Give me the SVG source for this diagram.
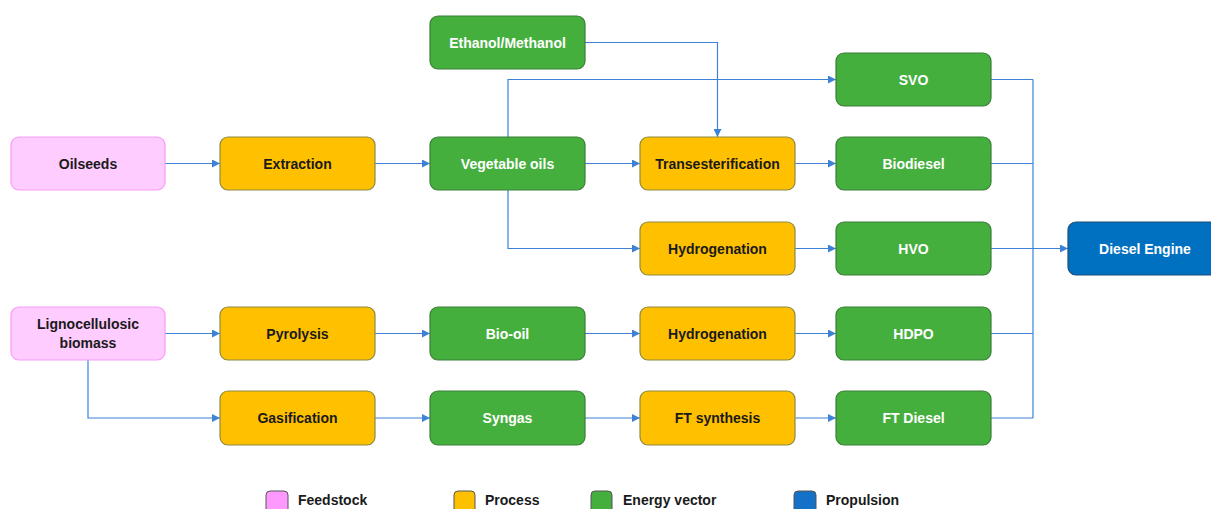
<svg xmlns="http://www.w3.org/2000/svg" width="1211" height="509" viewBox="0 0 1211 509">
<defs>
<style>
.n rect{stroke-width:1.2}
.fs rect{fill:#FFCCFF;stroke:#F59CF5}
.pr rect{fill:#FFC000;stroke:#8C8A45}
.ev rect{fill:#45AF3E;stroke:#3A7F38}
.pp rect{fill:#0070C0;stroke:#1F4E79}
text{font-family:"Liberation Sans",Arial,sans-serif;font-weight:bold;font-size:14px;text-anchor:middle}
.fs text,.pr text{fill:#1A1A1A}
.ev text,.pp text{fill:#FFFFFF}
.c path{fill:none;stroke:#3D82D6;stroke-width:1.2}
.lg text{text-anchor:start;fill:#1A1A1A}
.lg rect{stroke:#555;stroke-width:1}
</style>
<marker id="ah" viewBox="0 0 10 10" refX="10" refY="5" markerWidth="8" markerHeight="8" markerUnits="userSpaceOnUse" orient="auto">
<path d="M0,0 L10,5 L0,10 Z" fill="#3D82D6"/>
</marker>
</defs>
<rect width="1211" height="509" fill="#FFFFFF"/>
<g class="c">
<path d="M165,163.5 H220" marker-end="url(#ah)"/>
<path d="M375,163.5 H430" marker-end="url(#ah)"/>
<path d="M585,163.5 H640" marker-end="url(#ah)"/>
<path d="M508,137 V79.5 H836" marker-end="url(#ah)"/>
<path d="M585,42.5 H717.5 V137" marker-end="url(#ah)"/>
<path d="M508,190 V248.5 H640" marker-end="url(#ah)"/>
<path d="M795,163.5 H836" marker-end="url(#ah)"/>
<path d="M795,248.5 H836" marker-end="url(#ah)"/>
<path d="M165,333.5 H220" marker-end="url(#ah)"/>
<path d="M375,333.5 H430" marker-end="url(#ah)"/>
<path d="M585,333.5 H640" marker-end="url(#ah)"/>
<path d="M795,333.5 H836" marker-end="url(#ah)"/>
<path d="M88,360 V418 H220" marker-end="url(#ah)"/>
<path d="M375,418 H430" marker-end="url(#ah)"/>
<path d="M585,418 H640" marker-end="url(#ah)"/>
<path d="M795,418 H836" marker-end="url(#ah)"/>
<path d="M991,79.5 H1033 M991,163.5 H1033 M991,333.5 H1033 M991,418 H1033 M1033,79.5 V418"/>
<path d="M991,248.5 H1068" marker-end="url(#ah)"/>
</g>
<g id="oilseeds" class="n fs"><rect x="11" y="137" width="154" height="53" rx="8"/><text x="88" y="168.5">Oilseeds</text></g>
<g id="extraction" class="n pr"><rect x="220" y="137" width="155" height="53" rx="8"/><text x="297.5" y="168.5">Extraction</text></g>
<g id="vegoils" class="n ev"><rect x="430" y="137" width="155" height="53" rx="8"/><text x="507.5" y="168.5">Vegetable oils</text></g>
<g id="ethanol" class="n ev"><rect x="430" y="16" width="155" height="53" rx="8"/><text x="507.5" y="47.5">Ethanol/Methanol</text></g>
<g id="trans" class="n pr"><rect x="640" y="137" width="155" height="53" rx="8"/><text x="717.5" y="168.5">Transesterification</text></g>
<g id="svo" class="n ev"><rect x="836" y="53" width="155" height="53" rx="8"/><text x="913.5" y="84.5">SVO</text></g>
<g id="biodiesel" class="n ev"><rect x="836" y="137" width="155" height="53" rx="8"/><text x="913.5" y="168.5">Biodiesel</text></g>
<g id="hydro1" class="n pr"><rect x="640" y="222" width="155" height="53" rx="8"/><text x="717.5" y="253.5">Hydrogenation</text></g>
<g id="hvo" class="n ev"><rect x="836" y="222" width="155" height="53" rx="8"/><text x="913.5" y="253.5">HVO</text></g>
<g id="diesel" class="n pp"><rect x="1068" y="222" width="154" height="53" rx="8"/><text x="1145" y="253.5">Diesel Engine</text></g>
<g id="ligno" class="n fs"><rect x="11" y="307" width="154" height="53" rx="8"/><text x="88" y="329">Lignocellulosic</text><text x="88" y="348">biomass</text></g>
<g id="pyrolysis" class="n pr"><rect x="220" y="307" width="155" height="53" rx="8"/><text x="297.5" y="338.5">Pyrolysis</text></g>
<g id="biooil" class="n ev"><rect x="430" y="307" width="155" height="53" rx="8"/><text x="507.5" y="338.5">Bio-oil</text></g>
<g id="hydro2" class="n pr"><rect x="640" y="307" width="155" height="53" rx="8"/><text x="717.5" y="338.5">Hydrogenation</text></g>
<g id="hdpo" class="n ev"><rect x="836" y="307" width="155" height="53" rx="8"/><text x="913.5" y="338.5">HDPO</text></g>
<g id="gasification" class="n pr"><rect x="220" y="391" width="155" height="54" rx="8"/><text x="297.5" y="423">Gasification</text></g>
<g id="syngas" class="n ev"><rect x="430" y="391" width="155" height="54" rx="8"/><text x="507.5" y="423">Syngas</text></g>
<g id="ftsyn" class="n pr"><rect x="640" y="391" width="155" height="54" rx="8"/><text x="717.5" y="423">FT synthesis</text></g>
<g id="ftdiesel" class="n ev"><rect x="836" y="391" width="155" height="54" rx="8"/><text x="913.5" y="423">FT Diesel</text></g>
<g id="legend" class="lg">
<rect x="266" y="491" width="22" height="22" rx="4" fill="#FF99FF"/><text x="298" y="505">Feedstock</text>
<rect x="454" y="491" width="21" height="22" rx="4" fill="#FFC000"/><text x="485" y="505">Process</text>
<rect x="591" y="491" width="21" height="22" rx="4" fill="#45AF3E"/><text x="623" y="505">Energy vector</text>
<rect x="794" y="491" width="22" height="22" rx="4" fill="#1570C8"/><text x="826" y="505">Propulsion</text>
</g>
</svg>
